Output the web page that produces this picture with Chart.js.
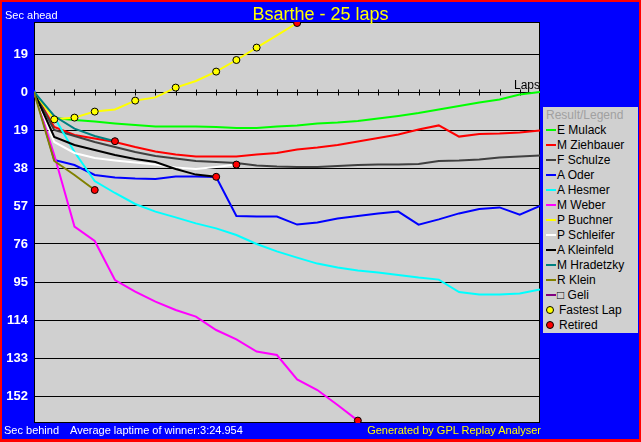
<!DOCTYPE html>
<html>
<head>
<meta charset="utf-8">
<script src="https://cdn.jsdelivr.net/npm/chart.js@4/dist/chart.umd.min.js"></script>
<style>
  html, body { margin:0; padding:0; }
  body { width:641px; height:442px; background:#ff0000; position:relative; overflow:hidden;
         font-family:"Liberation Sans", Arial, sans-serif; }
  #frame { position:absolute; left:2px; top:2px; width:637px; height:437px; background:#0000ff; }
  #chart { position:absolute; left:0; top:0; }
  .txt { position:absolute; white-space:nowrap; font-size:11px; line-height:11px; color:#fff; }
  #title { left:0; width:641px; text-align:center; top:5px; font-size:18px; line-height:18px; color:#ffff00; }
  #laps { left:480px; width:60px; text-align:right; top:79px; font-size:12px; line-height:12px; color:#000; }
  #legend { position:absolute; left:543px; top:107px; width:95px; height:226px; background:#d0d0d0; }
  .row { height:15px; display:flex; align-items:center; font-size:12px; line-height:12px; color:#000; white-space:nowrap; }
  .row.head { color:#a0a0a0; padding-left:3px; }
  .swatch { display:inline-block; width:10px; height:2px; margin-left:3px; margin-right:1px; }
  .dot { display:inline-block; width:6px; height:6px; border:1px solid #000; border-radius:50%;
         margin-left:3px; margin-right:5px; box-sizing:content-box; }
</style>
</head>
<body>
<div id="frame"></div>
<canvas id="chart" width="641" height="442"></canvas>
<div class="txt" id="title">Bsarthe - 25 laps</div>
<div class="txt" style="left:5px; top:10px;">Sec ahead</div>
<div class="txt" id="laps">Laps</div>
<div class="txt" style="left:4px; top:425px;">Sec behind</div>
<div class="txt" style="left:70px; top:425px;">Average laptime of winner:3:24.954</div>
<div class="txt" style="left:341px; width:200px; text-align:right; top:425px; color:#ffff00;">Generated by GPL Replay Analyser</div>
<div id="legend"></div>

<script>
// ── DATA ────────────────────────────────────────────────
const LAPS = 25;
const Y_TICKS = [19, 0, -19, -38, -57, -76, -95, -114, -133, -152];

const DRIVERS = ['E Mulack', 'M Ziehbauer', 'F Schulze', 'A Oder', 'A Hesmer', 'M Weber',
                 'P Buchner', 'P Schleifer', 'A Kleinfeld', 'M Hradetzky', 'R Klein', '\u25A1 Geli'];
const COLORS  = ['#00ff00', '#ff0000', '#404040', '#0000ff', '#00ffff', '#ff00ff',
                 '#ffff00', '#ffffff', '#000000', '#008080', '#808000', '#800080'];

// seconds ahead (+) / behind (-) at the end of each lap, index = lap
const MULACK     = [0, -13, -14, -14.8, -15.7, -16.5, -17.2, -17.3, -17.3, -17.5, -18, -18, -17.2,
                    -16.8, -15.7, -15.3, -14.5, -13.3, -12, -10.5, -8.7, -7, -5.3, -3.7, -1.3, 0];
const ZIEHBAUER  = [0, -17.5, -21.5, -23.3, -25, -27.5, -29.7, -31.3, -32.2, -32.3, -32.3, -31.2, -30.5,
                    -28.8, -27.8, -26.5, -24.7, -23, -21.2, -18.8, -16.7, -22.3, -21, -20.8, -20.2, -19.3];
const SCHULZE    = [0, -19, -22, -25, -27.5, -30, -32, -33.3, -34.5, -35, -35.5, -36.7, -37.3,
                    -37.5, -37.5, -37, -36.5, -36.3, -36.3, -36, -34.5, -34.3, -33.7, -32.8, -32.3, -31.8];
const ODER       = [1, -34, -36.5, -41.5, -42.7, -43.3, -43.5, -42.3, -42.3, -42.5, -62, -62.3, -62.3,
                    -66.3, -65.2, -63.3, -62, -60.7, -59.8, -66.3, -63.7, -60.7, -58.5, -57.7, -61.3, -57];
const HESMER     = [0, -12.5, -30, -44.5, -50.5, -56, -59.8, -62.7, -65.7, -68.2, -71.5, -76, -79.7,
                    -82.8, -85.8, -87.8, -89.2, -90.3, -91.5, -92.8, -93.8, -100, -101.2, -101.2, -100.8, -98.7];
const WEBER      = [0, -31.5, -67.3, -74.5, -94, -99.8, -104.8, -109, -112.3, -119, -123.7, -129.8, -131.5,
                    -143.7, -149, -156.5, -164.3];
const BUCHNER    = [0, -13.7, -12.8, -9.8, -8.7, -4.3, -2.7, 2.2, 5.5, 10.2, 16, 22.2, 28.3, 34.5];
const SCHLEIFER  = [0, -25, -30.5, -33, -34.2, -35.3, -36.3, -37.7, -38.5, -37.5, -36.3];
const KLEINFELD  = [0, -22.5, -26.5, -29, -31.5, -33.5, -35, -38.5, -41.3, -42.4];
const HRADETZKY  = [0, -12, -18.3, -22, -24.6];
const KLEIN      = [0, -34.5, -41.5, -49];
const GELI       = [];

const SERIES = [MULACK, ZIEHBAUER, SCHULZE, ODER, HESMER, WEBER,
                BUCHNER, SCHLEIFER, KLEINFELD, HRADETZKY, KLEIN, GELI];

// laps marked as fastest lap
const FASTEST_LAPS = { 'P Buchner': [1, 2, 3, 5, 7, 9, 10, 11] };

// ── LEGEND (html) ───────────────────────────────────────
const legend = document.getElementById('legend');
legend.innerHTML = '<div class="row head">Result/Legend</div>' +
  DRIVERS.map((name, i) =>
    `<div class="row"><span class="swatch" style="background:${COLORS[i]}"></span>${name}</div>`
  ).join('') +
  '<div class="row"><span class="dot" style="background:#ffff00"></span>Fastest Lap</div>' +
  '<div class="row"><span class="dot" style="background:#ff0000"></span>Retired</div>';

// ── DATASETS ────────────────────────────────────────────
const toPoints = arr => arr.map((v, lap) => ({ x: lap, y: v }));

const fastestPts = [];
const retiredPts = [];
DRIVERS.forEach((name, i) => {
  const s = SERIES[i];
  (FASTEST_LAPS[name] || []).forEach(l => fastestPts.push({ x: l, y: s[l] }));
  if (s.length && s.length <= LAPS) retiredPts.push({ x: s.length - 1, y: s[s.length - 1] });
});

const datasets = DRIVERS.map((name, i) => ({
  label: name,
  data: toPoints(SERIES[i]),
  borderColor: COLORS[i],
  borderWidth: 2,
  pointRadius: 0,
  tension: 0,
  fill: false,
  order: DRIVERS.length - i + 2,
}));

const marker = (label, pts, color) => ({
  type: 'scatter', label, data: pts, showLine: false,
  pointStyle: 'circle', pointRadius: 3.5,
  pointBackgroundColor: color, pointBorderColor: '#000', pointBorderWidth: 1,
  order: 0,
});
datasets.push(marker('Fastest Lap', fastestPts, '#ffff00'));
datasets.push(marker('Retired', retiredPts, '#ff0000'));

// ── PLOT FRAME PLUGIN ───────────────────────────────────
const plotFrame = {
  id: 'plotFrame',
  beforeDraw(chart) {
    const { ctx, chartArea: a } = chart;
    ctx.save();
    ctx.fillStyle = '#d0d0d0';
    ctx.fillRect(a.left, a.top, a.width, a.height);
    ctx.restore();
  },
  beforeDatasetsDraw(chart) {
    const { ctx, chartArea: a, scales: { x, y } } = chart;
    const y0 = Math.round(y.getPixelForValue(0)) + 0.5;
    ctx.save();
    ctx.strokeStyle = '#000';
    ctx.lineWidth = 1;
    ctx.beginPath();
    for (let lap = 1; lap < LAPS; lap++) {
      const px = Math.round(x.getPixelForValue(lap)) + 0.5;
      ctx.moveTo(px, y0 - 3);
      ctx.lineTo(px, y0 + 3);
    }
    ctx.stroke();
    ctx.strokeRect(a.left + 0.5, a.top + 0.5, a.width - 1, a.height - 1);
    ctx.restore();
  }
};

// ── CHART ───────────────────────────────────────────────
new Chart(document.getElementById('chart'), {
  type: 'line',
  data: { datasets },
  plugins: [plotFrame],
  options: {
    responsive: false,
    animation: false,
    layout: { padding: { left: 0, top: 22, right: 101, bottom: 19 } },
    plugins: { legend: { display: false }, tooltip: { enabled: false } },
    scales: {
      x: { type: 'linear', min: 0, max: LAPS, display: false },
      y: {
        min: -165.5, max: 35,
        afterBuildTicks: scale => { scale.ticks = Y_TICKS.map(v => ({ value: v })); },
        afterFit: scale => { scale.width = 34; },
        grid: { color: '#000', lineWidth: 1, drawTicks: false },
        border: { display: false },
        ticks: {
          padding: 6,
          color: '#fff',
          font: { family: 'Liberation Sans', size: 13, weight: 'bold' },
          callback: v => Math.abs(v),
        },
      },
    },
  },
});
</script>
</body>
</html>
